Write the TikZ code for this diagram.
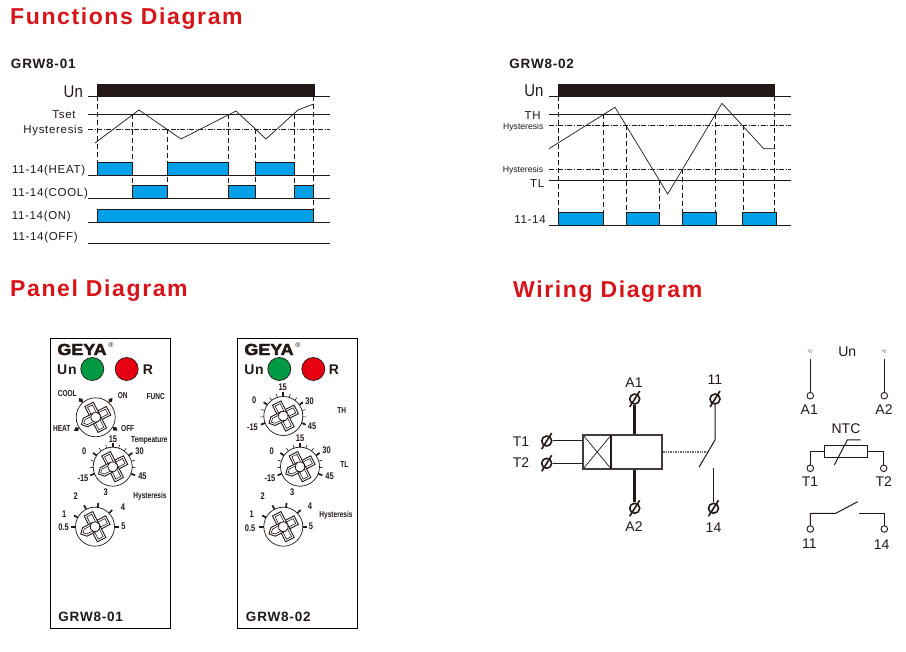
\documentclass[tikz,border=0pt]{standalone}
\usepackage{fontspec}
\setmainfont{Liberation Sans}
\newfontfamily\spc[LetterSpace=6]{Liberation Sans}
\newfontfamily\hd[LetterSpace=7]{Liberation Sans}
\newfontfamily\logofont[FakeBold=2.5]{Liberation Sans Bold}
\definecolor{ink}{HTML}{231815}
\definecolor{relayblue}{HTML}{00A0E9}
\definecolor{headred}{HTML}{D7141A}
\definecolor{ledgreen}{HTML}{009944}
\definecolor{ledred}{HTML}{E60012}
\usetikzlibrary{calc}
\tikzset{
  heading/.style={inner sep=0,anchor=west,text=headred,font=\hd\bfseries\fontsize{23}{25}\selectfont},
  modelname/.style={inner sep=0,text=ink,font=\spc\bfseries\fontsize{13.5}{15}\selectfont},
  lab/.style={inner sep=0,text=ink,font=\spc\fontsize{11.5}{13}\selectfont},
  smalllab/.style={inner sep=0,text=ink,font=\fontsize{8.6}{10}\selectfont},
  unlab/.style={inner sep=0,text=ink,xscale=.88,font=\fontsize{17}{19}\selectfont},
  hline/.style={line width=.8pt,ink},
  dashdot/.style={line width=.8pt,ink,dash pattern=on 5pt off 1.5pt on 1.2pt off 1.5pt},
  vdash/.style={line width=.8pt,ink,dash pattern=on 5pt off 3pt},
  wave/.style={line width=.7pt,ink,line join=miter},
  relaybar/.style={draw=ink,line width=.8pt,fill=relayblue},
  powerbar/.style={draw=ink,line width=.6pt,fill=ink},
  panel/.style={draw=black,line width=.9pt,fill=white},
  knoblab/.style={inner sep=0,text=ink,font=\bfseries\fontsize{8.6}{10}\selectfont,xscale=.76},
  numlab/.style={inner sep=0,text=ink,font=\bfseries\fontsize{9.6}{11}\selectfont,xscale=.78},
  led/.style={circle,draw=ink,line width=.7pt,inner sep=0,minimum size=23pt},
  wlab/.style={inner sep=0,text=ink,font=\fontsize{14}{16}\selectfont},
  term/.style={circle,draw=ink,line width=.9pt,fill=white,inner sep=0,minimum size=6.6pt},
  screw/.style={circle,draw=ink,line width=1.6pt,inner sep=0,minimum size=10pt},
  thin wire/.style={line width=1pt,ink},
  thick wire/.style={line width=2.8pt,ink},
}
\newcommand{\knobbody}[2]{%
  \draw[line width=.7pt,ink,fill=white] (#1,#2) circle[radius=19.5];
  \begin{scope}[shift={(#1,#2)},rotate=27,line width=.75pt,ink,fill=white]
    \foreach \a in {0,90,270}{
      \draw[rotate=\a,fill=white,line width=.9pt] (0,-4.8) rectangle (14.5,4.8);
      \draw[rotate=\a,line width=.6pt] (3,-2.8) -- (12.5,-2.8) -- (12.5,2.8) -- (3,2.8);
    }
    \draw[rotate=180,fill=white,line width=.9pt] (0,-4.8) -- (11.5,-4.8) -- (16,0) -- (11.5,4.8) -- (0,4.8) -- cycle;
    \draw[rotate=180,line width=.6pt] (3,-2.8) -- (10.5,-2.8) -- (13.5,0) -- (10.5,2.8) -- (3,2.8);
    \draw[fill=white,line width=.8pt] (0,0) circle[radius=5];
  \end{scope}}
\newcommand{\tmajor}[3]{\draw[line width=1.7pt,ink] ($(#1,#2)+({-1*(#3)}:19.5)$) -- ($(#1,#2)+({-1*(#3)}:24)$);}
\newcommand{\tminor}[3]{\draw[line width=.6pt,ink] ($(#1,#2)+({-1*(#3)}:19.5)$) -- ($(#1,#2)+({-1*(#3)}:23)$);}
\newcommand{\tempknob}[2]{%
  \foreach \t in {182.3,163.7,126.3,107.7,72.3,53.7,16.3,-2.3}{\tminor{#1}{#2}{\t}}
  \foreach \t in {-21,35,90,145,201}{\tmajor{#1}{#2}{\t}}
  \knobbody{#1}{#2}}
\newcommand{\hystknob}[2]{%
  \foreach \t in {0,44,82,117,152,180}{\tmajor{#1}{#2}{\t}}
  \knobbody{#1}{#2}}
\begin{document}
\begin{tikzpicture}[x=1pt,y=-1pt]
\useasboundingbox (0,0) rectangle (906,652);
\fill[white] (0,0) rectangle (906,652);

% headings
\node[heading] (hfunc) at (10,18.5) {Functions Diagram};
\node[heading] (hpanel) at (10,290.5) {Panel Diagram};
\node[heading] (hwire) at (513,291.5) {Wiring Diagram};

% ---------- GRW8-01 timing
\node[modelname] (m1) at (43.3,64) {GRW8-01};
\node[unlab] (un1) at (73.3,91.5) {Un};
\node[lab] (tset) at (64,115) {Tset};
\node[lab] (hy1) at (53.3,131) {Hysteresis};
\node[lab] (l1) at (48.7,170.3) {11-14(HEAT)};
\node[lab] (l2) at (50,194) {11-14(COOL)};
\node[lab] (l3) at (41.3,217) {11-14(ON)};
\node[lab] (l4) at (45,237.7) {11-14(OFF)};
\fill[powerbar] (97.5,84) rectangle (314,96.5);
\foreach \y in {96.5,114.5,175.5,198.5,222,243}{\draw[hline] (88,\y) -- (330,\y);}
\draw[dashdot] (88,129.5) -- (330,129.5);
\foreach \a/\b in {97.5/132.5,167.5/228.5,255.5/294.5}{\draw[relaybar] (\a,162.5) rectangle (\b,175.5);}
\foreach \a/\b in {132.5/167.5,228.5/255.5,294.5/313.5}{\draw[relaybar] (\a,185.5) rectangle (\b,198.5);}
\draw[relaybar] (97.5,209.5) rectangle (313.5,222);
\draw[vdash] (97.5,96.5) -- (97.5,162.5);
\foreach \x/\y in {132.5/114.5,228.5/114.5,294.5/114.5,167.5/129.5,255.5/129.5}{\draw[vdash] (\x,\y) -- (\x,185.5);}
\draw[vdash] (313.5,96.5) -- (313.5,209.5);
\draw[wave] (95,143) -- (139,110) -- (181,139) -- (236,111) -- (266,139) -- (298,110) -- (313.5,104);

% ---------- GRW8-02 timing
\node[modelname] (m2) at (541.7,64) {GRW8-02};
\node[unlab] (un2) at (534,91) {Un};
\node[lab] (th) at (532.7,115.3) {TH};
\node[smalllab] (hy2) at (523.3,127.2) {Hysteresis};
\node[smalllab] (hy3) at (523,170.5) {Hysteresis};
\node[lab] (tl) at (537.3,183.7) {TL};
\node[lab] (l5) at (530,220) {11-14};
\fill[powerbar] (558,84) rectangle (774.5,96.5);
\foreach \y in {96.5,114.5,180.5,225}{\draw[hline] (549,\y) -- (791,\y);}
\foreach \y in {125.5,169.5}{\draw[dashdot] (549,\y) -- (791,\y);}
\foreach \a/\b in {558.3/603.3,626.3/659.3,682.3/716,742.3/776.7}{\draw[relaybar] (\a,212.5) rectangle (\b,225);}
\foreach \x/\y in {558/96.5,603.3/114.5,626.3/125.5,659.3/180.5,682.3/169.5,715.5/114.5,743.5/125.5,774.5/96.5}{\draw[vdash] (\x,\y) -- (\x,212.5);}
\draw[wave] (549,148.7) -- (615,107.3) -- (667.7,194) -- (722,103.3) -- (763.7,148.7) -- (774.3,148.7);

% ---------- panel 1
\draw[panel] (50.7,338.3) rectangle (170.7,628.3);
\node[inner sep=0,text=ink,xscale=1.12,font=\logofont\fontsize{16}{18}\selectfont] (logo1) at (82,349.5) {GEYA};
\node[inner sep=0,text=ink,font=\fontsize{7}{8}\selectfont] (reg1) at (111,345) {®};
\node[inner sep=0,text=ink,font=\spc\bfseries\fontsize{14}{16}\selectfont] (un3) at (67,369.5) {Un};
\node[led,fill=ledgreen] (g1) at (92.3,369) {};
\node[led,fill=ledred] (r1) at (126.7,369) {};
\node[inner sep=0,text=ink,font=\bfseries\fontsize{14}{16}\selectfont] (rl1) at (148,369.5) {R};
\foreach \t in {-131,-49,-212,31}{
  \fill[ink] ($(95.7,417.3)+(\t:19.5)$) -- ($(95.7,417.3)+(\t:22.5)+(\t+90:2.2)$) -- ($(95.7,417.3)+(\t:25.5)$) -- ($(95.7,417.3)+(\t:22.5)+(\t-90:2.2)$) -- cycle;
}
\knobbody{95.7}{417.3}
\tempknob{112.7}{466.7}
\hystknob{95}{526.7}
\node[knoblab] (a1) at (67.3,394) {COOL};
\node[knoblab] (a2) at (122.7,396) {ON};
\node[knoblab] (a3) at (155.7,396.7) {FUNC};
\node[knoblab] (a4) at (61.7,429) {HEAT};
\node[knoblab] (a5) at (127.7,429) {OFF};
\node[numlab] (a6) at (113,439) {15};
\node[knoblab] (a7) at (149.3,440) {Tempeature};
\node[numlab] (a8) at (84.3,450.7) {0};
\node[numlab] (a9) at (139.5,451) {30};
\node[numlab] (a10) at (83,478) {-15};
\node[numlab] (a11) at (142.5,476) {45};
\node[numlab] (a12) at (75.7,495.7) {2};
\node[numlab] (a13) at (105.7,492.3) {3};
\node[knoblab] (a14) at (150,496) {Hysteresis};
\node[numlab] (a15) at (123,506.7) {4};
\node[numlab] (a16) at (64.3,514.3) {1};
\node[numlab] (a17) at (63.5,527.5) {0.5};
\node[numlab] (a18) at (123.5,526.7) {5};
\node[modelname] (p1) at (90.7,617.3) {GRW8-01};

% ---------- panel 2
\draw[panel] (237.3,338.3) rectangle (357.3,628.3);
\node[inner sep=0,text=ink,xscale=1.12,font=\logofont\fontsize{16}{18}\selectfont] (logo2) at (269,349.5) {GEYA};
\node[inner sep=0,text=ink,font=\fontsize{7}{8}\selectfont] (reg2) at (298,345) {®};
\node[inner sep=0,text=ink,font=\spc\bfseries\fontsize{14}{16}\selectfont] (un4) at (254,369.5) {Un};
\node[led,fill=ledgreen] (g2) at (279.3,369) {};
\node[led,fill=ledred] (r2) at (313.3,369) {};
\node[inner sep=0,text=ink,font=\bfseries\fontsize{14}{16}\selectfont] (rl2) at (334,369.5) {R};
\tempknob{283.3}{416}
\tempknob{300}{466.7}
\hystknob{283.3}{526.7}
\node[numlab] (b1) at (282.7,387.5) {15};
\node[numlab] (b2) at (254.3,400) {0};
\node[numlab] (b3) at (309.5,401.7) {30};
\node[numlab] (b4) at (252.5,427.3) {-15};
\node[numlab] (b5) at (312,426.7) {45};
\node[knoblab] (b6) at (341.7,411) {TH};
\node[numlab] (b7) at (300,438) {15};
\node[numlab] (b8) at (271.7,450.7) {0};
\node[numlab] (b9) at (326.5,450.7) {30};
\node[numlab] (b10) at (270,478.3) {-15};
\node[numlab] (b11) at (329.5,476.7) {45};
\node[knoblab] (b12) at (344.3,464.3) {TL};
\node[numlab] (b13) at (262.7,496) {2};
\node[numlab] (b14) at (292.3,492.3) {3};
\node[numlab] (b15) at (310,505.7) {4};
\node[numlab] (b16) at (251.7,514.3) {1};
\node[numlab] (b17) at (250.2,528.3) {0.5};
\node[numlab] (b18) at (311,526.7) {5};
\node[knoblab] (b19) at (336,515.7) {Hysteresis};
\node[modelname] (p2) at (278.3,617.3) {GRW8-02};

% ---------- wiring, left
\node[screw] (sa1) at (634.7,399) {};
\node[screw] (sa2) at (634.7,508.3) {};
\node[screw] (st1) at (546.7,441) {};
\node[screw] (st2) at (546.7,463.3) {};
\node[screw] (s11) at (715,399) {};
\node[screw] (s14) at (713.5,508.3) {};
\foreach \n in {sa1,sa2,st1,st2,s11,s14}{\draw[line width=1.6pt,ink] ($(\n)+(-5,8)$) -- ($(\n)+(5,-8)$);}
\coordinate (boxa) at (583.3,435.3);
\coordinate (boxb) at (662,468.7);
\coordinate (boxm) at (611,435.3);
\coordinate (boxn) at (611,468.7);
\coordinate (a1top) at (634.7,435.3);
\coordinate (a2bot) at (634.7,468.7);
\coordinate (t1in) at (583.3,441);
\coordinate (t2in) at (583.3,463.3);
\coordinate (sw1) at (715,440);
\coordinate (sw2) at (699,467.3);
\coordinate (sw3) at (713.5,468.3);
\coordinate (dot1) at (662.7,451.7);
\coordinate (dot2) at (708.3,451.7);
\draw[thick wire] (sa1) -- (a1top);
\draw[thick wire] (a2bot) -- (sa2);
\draw[thin wire] (st1) -- (t1in);
\draw[thin wire] (st2) -- (t2in);
\draw[line width=.7pt,ink] (boxa) -- (boxn) (boxm) -- (583.3,468.7);
\draw[line width=1.9pt,ink!85] (boxa) rectangle (boxb);
\draw[line width=1.9pt,ink] (boxm) -- (boxn);
\draw[line width=1.9pt,ink!65,dash pattern=on 1pt off .7pt] (dot1) -- (dot2);
\draw[thin wire] (s11) -- (sw1) -- (sw2);
\draw[thin wire] (sw3) -- (s14);
\node[wlab] (ta1) at (634,382.5) {A1};
\node[wlab] (ta2) at (634,527) {A2};
\node[wlab] (tt1) at (521,442) {T1};
\node[wlab] (tt2) at (521,463) {T2};
\node[wlab] (t11) at (715,379.5) {11};
\node[wlab] (t14) at (713.5,528) {14};

% ---------- wiring, right
\node[inner sep=0,text=ink!60,font=\fontsize{9}{10}\selectfont] (ac1) at (810,352.3) {≈};
\node[inner sep=0,text=ink!60,font=\fontsize{9}{10}\selectfont] (ac2) at (884.3,352.3) {≈};
\node[wlab] (unw) at (847.3,351.7) {Un};
\node[term] (ca1) at (810.3,395.7) {};
\node[term] (ca2) at (884.3,395.7) {};
\node[term] (ct1) at (810.3,468.3) {};
\node[term] (ct2) at (883.7,468.3) {};
\node[term] (c11) at (810.3,529) {};
\node[term] (c14) at (884.3,529) {};
\coordinate (up1) at (810.3,359);
\coordinate (up2) at (884.3,359);
\draw[thin wire] (up1) -- (ca1);
\draw[thin wire] (up2) -- (ca2);
\node[wlab] (wa1) at (809.3,410) {A1};
\node[wlab] (wa2) at (884,410) {A2};
\node[wlab] (ntc) at (846,429) {NTC};
\node[draw=ink,line width=.9pt,fill=white,inner sep=0,minimum width=43pt,minimum height=11.6pt] (res) at (845.8,451.5) {};
\draw[thin wire] (res.west) -| (ct1);
\draw[thin wire] (res.east) -| (ct2);
\coordinate (nt1) at (834.3,465);
\coordinate (nt2) at (847.3,440);
\coordinate (nt3) at (860.7,440);
\draw[thin wire] (nt1) -- (nt2) -- (nt3);
\node[wlab] (wt1) at (810,481.7) {T1};
\node[wlab] (wt2) at (883.7,481.7) {T2};
\coordinate (k1) at (835.7,513.3);
\coordinate (k2) at (857.7,501.7);
\coordinate (k3) at (859,513.3);
\draw[thin wire] (c11) |- (k1) -- (k2);
\draw[thin wire] (k3) -| (c14);
\node[wlab] (w11) at (809.3,543.3) {11};
\node[wlab] (w14) at (881.7,544.3) {14};
\end{tikzpicture}
\end{document}
